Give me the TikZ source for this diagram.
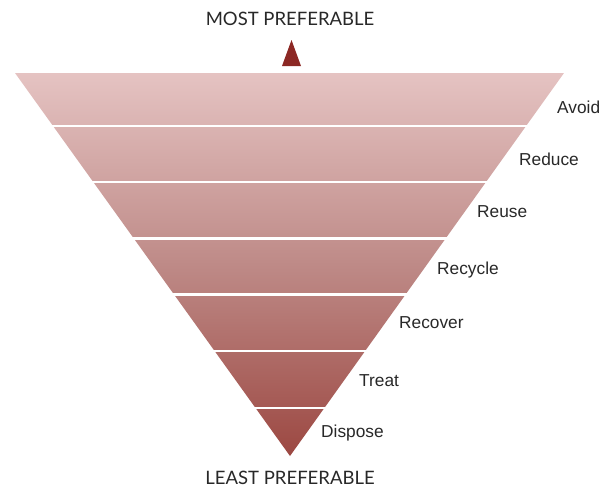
\documentclass[tikz,border=0pt]{standalone}
\usepackage{fontspec}
\setmainfont{Liberation Sans}
\newfontfamily\latofont{Lato}
\usetikzlibrary{calc}
\definecolor{toprose}{RGB}{229,195,194}
\definecolor{midrose}{RGB}{190,138,135}
\definecolor{botrose}{RGB}{156,72,66}
\definecolor{arrowred}{RGB}{140,40,36}
\definecolor{labelgray}{RGB}{40,40,40}
\tikzset{
  lvl/.style={anchor=west, font=\fontsize{17.3}{19}\selectfont, text=labelgray, inner sep=0pt},
  capt/.style={font=\latofont\fontsize{18.5}{20}\selectfont, text=labelgray, inner sep=0pt},
  sep/.style={draw=white, line width=2.4pt}
}
\begin{document}
\begin{tikzpicture}[x=1pt,y=-1pt]
\useasboundingbox (0,0) rectangle (609,488);
\coordinate (L) at (15,73);
\coordinate (R) at (564,73);
\coordinate (A) at (290,456);
\shade[top color=toprose, bottom color=botrose, middle color=midrose] (L) -- (R) -- (A) -- cycle;
\foreach \t in {0.1387,0.2853,0.4319,0.5785,0.7251,0.8743}{
  \draw[sep] ($(L)!\t!(A)+(-3,0)$) -- ($(R)!\t!(A)+(3,0)$);
}
\node[capt] (most) at (290,19) {MOST PREFERABLE};
\node[capt] (least) at (290,478) {LEAST PREFERABLE};
\fill[arrowred] (282,66) -- (291.5,40) -- (301,66) -- cycle;
\node[lvl] (avoid) at (557,107) {Avoid};
\node[lvl] (reduce) at (519,159) {Reduce};
\node[lvl] (reuse) at (477,212) {Reuse};
\node[lvl] (recycle) at (437,270) {Recycle};
\node[lvl] (recover) at (399,323) {Recover};
\node[lvl] (treat) at (359,381) {Treat};
\node[lvl] (dispose) at (321,433) {Dispose};
\end{tikzpicture}
\end{document}
